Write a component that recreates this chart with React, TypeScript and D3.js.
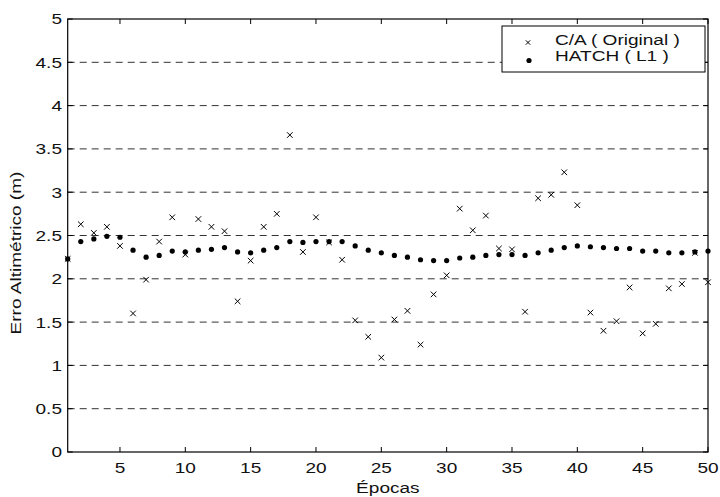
import * as d3 from "d3";
import React from "react";

// Épocas 1..50
const epocas = [
  1, 2, 3, 4, 5, 6, 7, 8, 9, 10, 11, 12, 13, 14, 15, 16, 17, 18, 19, 20, 21, 22, 23, 24, 25,
  26, 27, 28, 29, 30, 31, 32, 33, 34, 35, 36, 37, 38, 39, 40, 41, 42, 43, 44, 45, 46, 47, 48, 49, 50,
];

// C/A ( Original )
const caOriginal = [
  2.23, 2.63, 2.53, 2.6, 2.38, 1.6, 1.99, 2.43, 2.71, 2.28,
  2.69, 2.6, 2.55, 1.74, 2.21, 2.6, 2.75, 3.66, 2.31, 2.71,
  2.42, 2.22, 1.52, 1.33, 1.09, 1.53, 1.63, 1.24, 1.82, 2.04,
  2.81, 2.56, 2.73, 2.35, 2.34, 1.62, 2.93, 2.97, 3.23, 2.85,
  1.61, 1.4, 1.51, 1.9, 1.37, 1.48, 1.89, 1.94, 2.3, 1.96,
];

// HATCH ( L1 )
const hatchL1 = [
  2.23, 2.43, 2.46, 2.49, 2.48, 2.33, 2.25, 2.27, 2.32, 2.31,
  2.33, 2.34, 2.36, 2.31, 2.3, 2.33, 2.36, 2.43, 2.42, 2.43,
  2.43, 2.43, 2.38, 2.33, 2.3, 2.27, 2.25, 2.22, 2.21, 2.21,
  2.24, 2.25, 2.27, 2.28, 2.28, 2.27, 2.3, 2.33, 2.36, 2.38,
  2.37, 2.36, 2.35, 2.35, 2.32, 2.32, 2.3, 2.3, 2.31, 2.32,
];

const xTicks = [5, 10, 15, 20, 25, 30, 35, 40, 45, 50];
const yTicks = [0, 0.5, 1, 1.5, 2, 2.5, 3, 3.5, 4, 4.5, 5];
const legendLabels = ["C/A ( Original )", "HATCH ( L1 )"];

const W = 720;
const H = 497;
const m = { left: 67.7, right: 708, top: 19, bottom: 452 };
const FONT = "'Liberation Sans', Arial, sans-serif";
const SX = 1.27; // wide glyphs in the original

function Txt({ x, y, anchor = "middle", rot = 0, children }: any) {
  return (
    <text
      transform={`translate(${x},${y}) rotate(${rot}) scale(${SX},1)`}
      textAnchor={anchor}
      fontFamily={FONT}
      fontSize={15}
      fill="#111"
    >
      {children}
    </text>
  );
}

function Cross({ cx, cy, s }: { cx: number; cy: number; s: number }) {
  return (
    <path
      d={`M${cx - s},${cy - s}L${cx + s},${cy + s}M${cx - s},${cy + s}L${cx + s},${cy - s}`}
      stroke="#000"
      strokeWidth={1}
      fill="none"
    />
  );
}

export default function App() {
  const x = d3.scaleLinear().domain([1, 50]).range([m.left, m.right]);
  const y = d3.scaleLinear().domain([0, 5]).range([m.bottom, m.top]);
  const tk = 5;

  const lg = { x0: 502, x1: 705, y0: 26, y1: 72 };

  return (
    <svg
      width={W}
      height={H}
      style={{ position: "absolute", left: 0, top: 0, background: "#fff" }}
    >
      <rect width={W} height={H} fill="#fff" />
      {/* grid */}
      {yTicks
        .filter((v) => v > 0 && v < 5)
        .map((v) => (
          <line
            key={"g" + v}
            x1={m.left}
            x2={m.right}
            y1={y(v)}
            y2={y(v)}
            stroke="#333"
            strokeWidth={1}
            strokeDasharray="7,5"
          />
        ))}
      {/* data */}
      {epocas.map((e, i) => (
        <circle key={"h" + e} cx={x(e)} cy={y(hatchL1[i])} r={2.6} fill="#000" />
      ))}
      {epocas.map((e, i) => (
        <Cross key={"c" + e} cx={x(e)} cy={y(caOriginal[i])} s={2.8} />
      ))}
      {/* axes box */}
      <rect
        x={m.left}
        y={m.top}
        width={m.right - m.left}
        height={m.bottom - m.top}
        fill="none"
        stroke="#000"
        strokeWidth={1.2}
      />
      {xTicks.map((t) => (
        <g key={"xt" + t}>
          <line x1={x(t)} x2={x(t)} y1={m.bottom} y2={m.bottom - tk} stroke="#000" />
          <line x1={x(t)} x2={x(t)} y1={m.top} y2={m.top + tk} stroke="#000" />
          <Txt x={x(t)} y={m.bottom + 20.7}>
            {t}
          </Txt>
        </g>
      ))}
      {yTicks.map((t) => (
        <g key={"yt" + t}>
          <line x1={m.left} x2={m.left + tk} y1={y(t)} y2={y(t)} stroke="#000" />
          <line x1={m.right} x2={m.right - tk} y1={y(t)} y2={y(t)} stroke="#000" />
          <Txt x={62} y={y(t) + 5.4} anchor="end">
            {String(t)}
          </Txt>
        </g>
      ))}
      <Txt x={(m.left + m.right) / 2} y={493}>
        Épocas
      </Txt>
      <Txt x={21} y={253} rot={-90}>
        Erro Altimétrico (m)
      </Txt>
      {/* legend */}
      <rect
        x={lg.x0}
        y={lg.y0}
        width={lg.x1 - lg.x0}
        height={lg.y1 - lg.y0}
        fill="#fff"
        stroke="#000"
        strokeWidth={1}
      />
      <Cross cx={528} cy={42.5} s={2.2} />
      <circle cx={529} cy={60.5} r={2.6} fill="#000" />
      <Txt x={555} y={45.3} anchor="start">
        {legendLabels[0]}
      </Txt>
      <Txt x={555} y={60.7} anchor="start">
        {legendLabels[1]}
      </Txt>
    </svg>
  );
}
